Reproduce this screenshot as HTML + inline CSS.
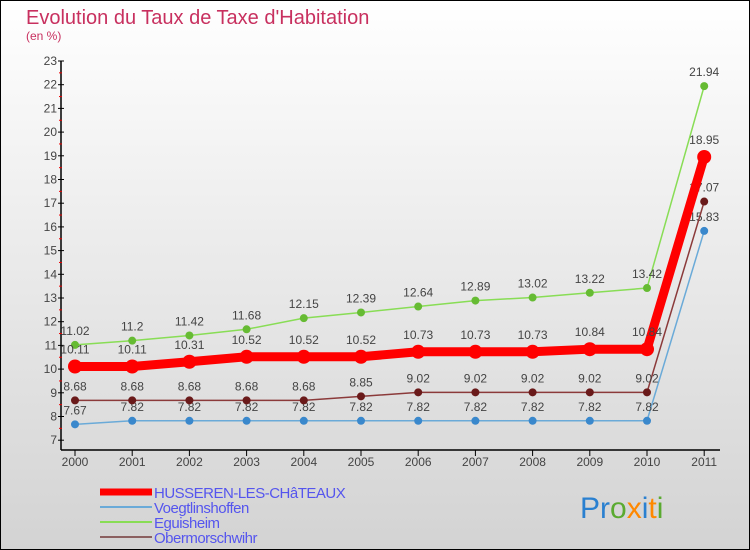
<!DOCTYPE html>
<html><head><meta charset="utf-8"><style>
body{margin:0}
#wrap{width:750px;height:550px;position:relative;overflow:hidden}
svg{font-family:"Liberation Sans",sans-serif}
</style></head><body>
<div id="wrap">
<svg id="chart" width="750" height="550">
<defs><linearGradient id="bg" x1="0" y1="0" x2="0" y2="1"><stop offset="0" stop-color="#ffffff"/><stop offset="1" stop-color="#d3d3d3"/></linearGradient></defs>
<rect x="0.5" y="0.5" width="749" height="549" fill="url(#bg)" stroke="#000"/>
<text x="26" y="24" font-size="20" fill="#c8305f">Evolution du Taux de Taxe d'Habitation</text>
<text x="26" y="40" font-size="12" fill="#c8305f">(en %)</text>
<g id="axes"></g><g id="series"></g><g id="legend"></g>
<text x="580" y="518" font-size="30"><tspan fill="#2a80d0">Pr</tspan><tspan fill="#5aaa30">o</tspan><tspan fill="#ff8800">x</tspan><tspan fill="#2a80d0">i</tspan><tspan fill="#ff8800">t</tspan><tspan fill="#5aaa30">i</tspan></text>
</svg></div>
<script>
const years=[2000,2001,2002,2003,2004,2005,2006,2007,2008,2009,2010,2011];
const yTicks=[7,8,9,10,11,12,13,14,15,16,17,18,19,20,21,22,23];
const husseren=[10.11,10.11,10.31,10.52,10.52,10.52,10.73,10.73,10.73,10.84,10.84,18.95];
const voegt=[7.67,7.82,7.82,7.82,7.82,7.82,7.82,7.82,7.82,7.82,7.82,15.83];
const eguis=[11.02,11.2,11.42,11.68,12.15,12.39,12.64,12.89,13.02,13.22,13.42,21.94];
const oberm=[8.68,8.68,8.68,8.68,8.68,8.85,9.02,9.02,9.02,9.02,9.02,17.07];
const NS="http://www.w3.org/2000/svg";
function X(i){return 75+i*57.2;}
function Y(v){return 61+(23-v)*23.7;}
function mk(tag,attrs,parent){const e=document.createElementNS(NS,tag);for(const k in attrs)e.setAttribute(k,attrs[k]);parent.appendChild(e);return e;}
const axes=document.getElementById('axes');
let a=mk('line',{x1:61,y1:Y(23),x2:61,y2:450,stroke:'#000','stroke-width':1.5},axes);


a=mk('line',{x1:61,y1:450,x2:720,y2:450,stroke:'#000','stroke-width':1.5},axes);


yTicks.forEach(v=>{
 mk('line',{x1:58,y1:Y(v),x2:64,y2:Y(v),stroke:'#000'},axes);
 if(v<23)mk('line',{x1:59,y1:Y(v+0.5),x2:62,y2:Y(v+0.5),stroke:'#e00'},axes);
 const t=mk('text',{x:57,y:Y(v)+4,'font-size':12,fill:'#444','text-anchor':'end'},axes);t.textContent=v;
 
 
});
years.forEach((y,i)=>{
 mk('line',{x1:X(i),y1:450,x2:X(i),y2:456,stroke:'#000'},axes);
 const t=mk('text',{x:X(i),y:466,'font-size':12,fill:'#444','text-anchor':'middle'},axes);t.textContent=y;
 
 
});
const ser=document.getElementById('series');
const defs=[
 {d:eguis,c:'#88dd55',dc:'#66bb33',w:1.5,r:4,n:'eguisheim'},
 {d:voegt,c:'#6aaad8',dc:'#3a88cc',w:1.5,r:4,n:'voegtlinshoffen'},
 {d:oberm,c:'#8b3a3a',dc:'#6a1a1a',w:1.5,r:4,n:'obermorschwihr'},
 {d:husseren,c:'#ff0000',dc:'#ff0000',w:9,r:7,n:'husseren'}];
defs.forEach(s=>{
 const g=mk('g',{},ser);
 
 
 const p=mk('polyline',{points:s.d.map((v,i)=>X(i)+','+Y(v)).join(' '),fill:'none',stroke:s.c,'stroke-width':s.w},g);
 
 
 s.d.forEach((v,i)=>{
  const c=mk('circle',{cx:X(i),cy:Y(v),r:s.r,fill:s.dc},g);
  
  
  const t=mk('text',{x:X(i),y:Y(v)-(s.r+6),'font-size':12,fill:'#444','text-anchor':'middle'},g);
  t.textContent=v;
  
  
 });
});
const leg=document.getElementById('legend');
const legNames=['HUSSEREN-LES-CHâTEAUX','Voegtlinshoffen','Eguisheim','Obermorschwihr'];
const legCols=['#ff0000','#6aaad8','#88dd55','#8b6060'];
const legW=[7,2,2,2];
legNames.forEach((n,i)=>{
 const y=492+i*15;
 const g=mk('g',{},leg);
 
 
 mk('line',{x1:100,y1:y,x2:152,y2:y,stroke:legCols[i],'stroke-width':legW[i]},g);
 const t=mk('text',{x:154,y:y+6,'font-size':15,fill:'#5555ee','letter-spacing':'-0.5'},g);t.textContent=n;
});
</script>
</body></html>
